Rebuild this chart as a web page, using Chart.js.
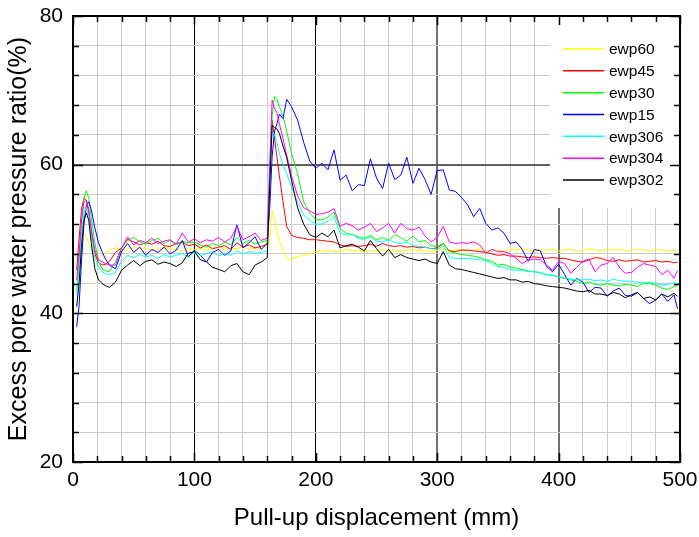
<!DOCTYPE html>
<html><head><meta charset="utf-8">
<script src="https://cdn.jsdelivr.net/npm/chart.js@4"></script>
<style>html,body{margin:0;padding:0;background:#fff;}#wrap{width:699px;height:537px;}</style>
</head><body><div id="wrap"><canvas id="c" width="699" height="537"></canvas></div>
<script>
const displacement = [3,5,7,9,11,13,15,18,21,24,27,30,35,40,45,50,55,60,65,70,75,80,85,90,95,100,105,110,115,120,125,130,135,140,145,150,155,160,162,164,166,168,170,173,176,180,185,190,195,200,205,210,215,220,225,230,235,240,245,250,255,260,265,270,275,280,285,290,295,300,305,310,315,320,325,330,335,340,345,350,355,360,365,370,375,380,385,390,395,400,405,410,415,420,425,430,435,440,445,450,455,460,465,470,475,480,485,490,495,498];

const ewp60 = [45,48,50,50.8,50.3,49.5,48.5,47.8,47.6,47.9,48.2,
48.5,
48.8,48.6,48.5,48.9,48.7,48.8,48.5,48.6,48.9,48.7,48.6,48.4,48.7,48.6,48.8,48.5,48.7,48.9,48.6,48.8,48.7,48.9,48.6,48.8,48.7,48.9,
50,53.9,52.5,51,49.8,48.5,47.3,47.3,
47.6,47.8,48,48.3,48.4,48.5,48.3,48.4,48.6,48.4,48.5,48.3,48.5,48.4,48.6,48.4,48.5,48.3,48.5,48.6,48.4,48.5,48.3,48.5,
48.6,48.4,48.5,48.6,48.4,48.5,48.7,48.4,48.6,48.5,48.4,48.6,48.5,48.7,48.5,48.4,48.6,48.5,48.6,48.4,
48.5,48.6,48.4,48.5,48.7,48.5,48.4,48.6,48.5,48.6,48.4,48.5,48.6,48.5,48.4,48.6,48.5,48.4,48.5,48.4];

const ewp45 = [45.8,50,54,55.5,55.2,53.5,51,48,46.8,46.5,46.6,
47,
48.2,48.8,50,49.6,49.2,49.5,49.3,49.7,49.1,49,49.4,49.6,49.1,49.3,48.8,49.2,48.7,48.9,49.1,48.6,49.5,48.9,49.2,48.8,49,49.3,
57,66,63.5,61,58.5,55,51.7,50.5,
50.2,50.1,49.9,49.9,49.8,49.7,49.6,49.2,49,49.1,49,49.1,49.3,49,49.4,49.1,49,49.1,48.9,49,48.8,48.9,48.7,48.8,
49.4,48.4,48.3,48.5,48.5,48.4,48.3,48.2,48,47.8,47.9,47.7,47.7,47.6,47.5,47.6,47.5,47.4,47.5,47.4,
47.4,47.2,47,46.9,47.2,47.5,47.4,47.1,47,47.2,47,47.1,47.2,46.9,47,47.1,46.9,47,46.8,46.9];

const ewp30 = [43,47,52,55.5,56.5,55.5,53,49.5,47,46,45.7,
45.6,
47,48.8,49.8,50.2,49.6,49.3,49.8,50.1,49.4,49.8,49.2,49.7,49.5,49.6,49.2,48.9,49.4,49.1,49.6,49.2,50.2,49.4,49.8,49.3,49.6,49.8,
58,66.5,69.2,68.8,67.8,66.5,64.5,61.5,
58.8,55,53.5,52.6,52.6,52.9,53.6,51.4,50.8,50.6,50.3,50.1,50.5,49.9,50.2,49.8,50.6,50.2,49.7,50.4,49.6,49.8,49.1,49,
49.4,48.3,48.1,47.9,47.8,47.7,47.5,47.2,47,46.5,46.6,46.2,46.1,45.9,45.7,45.6,45.5,45.2,45.1,44.9,
44.7,44.5,44.3,44,44.2,43.9,43.8,44,43.8,43.7,43.9,43.8,43.6,44,44,43.8,43.4,43.2,43.6,43.8];

const ewp15 = [38.2,41,47,52,54.5,55,54,51.5,49.5,48.3,47.2,
46.5,
46,48.3,49.4,48.2,48.9,47.8,48.6,48.2,48.9,48,48.5,49.8,47.6,48.5,47.8,46.9,48.2,48.6,47.8,48.4,51.9,48.8,49.5,50.3,48.6,49.4,
54,61,64.5,65.5,66.8,66.2,68.8,67.8,
66,63,60.5,59.5,60.2,59.3,62,57.9,58.6,56.5,57.3,57.2,60.8,58.2,56.8,60.2,58,58.6,61,57.5,59.5,58,56,59.2,
59.3,56.6,56.4,55.6,54.6,53,54.1,52.1,51.2,51.5,50.8,49.4,49.6,48.6,47,48.6,48.4,46.3,45.6,46.6,
45.2,43.8,44.7,44.2,42.8,43.5,43.4,42.3,43,43.4,42.4,42.3,42.8,42,41.3,41.8,42.6,41.6,42.5,40.6];

const ewp306 = [42.5,46,50.5,53.5,54.2,53,50.5,47.5,46.2,45.6,45.3,
45.2,
45.5,47,47.8,47.5,47.9,47.6,47.8,47.4,47.9,47.6,47.8,48.1,47.5,48.2,47.8,48,48.3,47.7,48.1,47.8,48.4,48,48.3,48.1,48.2,48.4,
57,64.5,64,63,61.5,60,58.8,57,
55,53.2,52.5,52,52,52.4,53,50.8,50.5,50.6,50.1,49.9,50.3,49.7,49.6,49.9,49.5,49.4,49.6,49.1,49,48.9,48.7,48.6,
49.1,47.5,47.4,47.4,47.4,47.3,47.2,47.1,46.7,46.3,46.2,45.9,45.8,45.8,45.6,45.6,45.4,45.2,45.1,44.9,
44.8,44.6,44.5,44.5,44.6,44.4,44.5,44.3,44.6,44.4,44.3,44.3,44.2,44.1,44.2,44,43.8,43.9,44.1,44];

const ewp304 = [44.5,48,52.5,55,55.2,54,51.5,48.5,47.2,46.9,46.7,
46.5,
46.5,48.7,50.3,49.2,49.8,49.5,50.1,49.4,49.7,49.9,49.3,50.8,49.6,50,49.5,49.9,49.7,50.2,49.6,50.1,51.7,49.9,50.3,50.8,49.8,50.1,
60,68.7,67.5,67,65.5,63.5,61.3,58.5,
55.8,54.2,53.8,53.3,53.4,53.6,54.1,51.7,52.1,51.8,51.2,51.6,52.1,51,51.5,52.1,50.8,52.1,51.4,51.2,51.6,50.4,49.6,50.2,
51.7,49.6,49.4,49.5,49.4,49.6,49.2,48.1,48.6,48.3,48.3,48,47.4,46.7,47.2,47.3,47.2,46.5,45.8,47,
46.7,45.4,46.2,47,47.3,45.6,46.5,46.7,47.5,46.2,45.4,45.5,46.2,46.7,46.5,46.3,45.2,45.8,44.7,45.8];

const ewp302 = [40.9,44,49,52.5,53.5,52.5,49.5,46,44.5,44,43.7,
43.5,
44.2,45.8,46.5,47.1,46.4,47,47.2,46.6,46.9,46.7,46.3,46.8,48.1,48.3,47.2,46.9,46.2,45.9,45.6,46.4,46.7,45.6,45.2,46.5,46.9,47.5,
57,65.3,65,64.8,64.2,62.5,61,57.9,
54.2,52,50.6,50.2,50.8,50.3,51.2,48.8,49.1,49.3,48.9,48.4,49.8,48.7,47.7,48.6,47.5,47.9,47.5,47.3,47.1,47.3,46.9,46.7,
48.3,46.5,46,45.9,45.7,45.5,45.3,45.1,44.9,44.7,44.8,44.5,44.5,44.2,44.3,44,43.9,43.7,43.6,43.5,
43.4,43.2,43,42.9,43.1,42.6,42.6,42.4,42.8,42.6,42.1,42.5,42.8,42,42.2,41.8,42.6,42.2,42.7,42.3];

const seriesNames = ['ewp60','ewp45','ewp30','ewp15','ewp306','ewp304','ewp302'];
const seriesValues = [ewp60, ewp45, ewp30, ewp15, ewp306, ewp304, ewp302];
const seriesColors = ['#ffff00','#ff0000','#00ff00','#0000ff','#00ffff','#ff00ff','#000000'];
const xTickLabels = [0,100,200,300,400,500];
const yTickLabels = [20,40,60,80];

const FONT = "'Liberation Sans', Arial, Helvetica, sans-serif";

const datasets = seriesNames.map((name, i) => ({
  label: name,
  data: displacement.map((x, k) => ({x: x, y: seriesValues[i][k]})),
  borderColor: seriesColors[i],
  borderWidth: 1,
  pointRadius: 0,
  tension: 0,
  fill: false,
  order: seriesNames.length - i
}));

function gridColorX(ctx) {
  const v = ctx.tick ? ctx.tick.value : null;
  if (v === 100 || v === 200) return '#000000';
  if (v === 300 || v === 400) return '#707070';
  return '#cccccc';
}
function gridWidthX(ctx) {
  const v = ctx.tick ? ctx.tick.value : null;
  if (v === 300 || v === 400) return 2;
  return 1;
}
function gridColorY(ctx) {
  const v = ctx.tick ? ctx.tick.value : null;
  if (v === 40) return '#000000';
  if (v === 60) return '#606060';
  return '#cccccc';
}
function gridWidthY(ctx) {
  const v = ctx.tick ? ctx.tick.value : null;
  if (v === 60) return 2;
  return 1;
}

const framePlugin = {
  id: 'frame',
  beforeDatasetsDraw(chart) {
    const {ctx, chartArea: a} = chart;
    ctx.save();
    ctx.fillStyle = '#ffffff';
    ctx.fillRect(a.right - 130, a.top, 130, 192);
    ctx.restore();
  },
  afterDatasetsDraw(chart) {
    const {ctx, chartArea: a, scales} = chart;
    const x = scales.x, y = scales.y;
    ctx.save();
    ctx.strokeStyle = '#000';
    ctx.lineWidth = 1.5;
    ctx.beginPath();
    x.ticks.forEach(t => {
      const px = Math.round(x.getPixelForValue(t.value)) + 0.5;
      const len = (t.value % 100 === 0) ? 9 : 6;
      ctx.moveTo(px, a.bottom); ctx.lineTo(px, a.bottom - len);
      ctx.moveTo(px, a.top); ctx.lineTo(px, a.top + len);
    });
    y.ticks.forEach(t => {
      const py = Math.round(y.getPixelForValue(t.value)) + 0.5;
      const len = (t.value % 20 === 0) ? 10 : 6;
      ctx.moveTo(a.left, py); ctx.lineTo(a.left + len, py);
      ctx.moveTo(a.right, py); ctx.lineTo(a.right - len, py);
    });
    ctx.stroke();
    ctx.lineWidth = 2;
    ctx.strokeRect(a.left, a.top, a.right - a.left, a.bottom - a.top);
    // legend
    ctx.font = '15.5px ' + FONT;
    ctx.textBaseline = 'middle';
    ctx.textAlign = 'left';
    chart.data.datasets.forEach((ds, i) => {
      const ly = a.top + 33 + i * 21.83;
      ctx.strokeStyle = ds.borderColor;
      ctx.lineWidth = 1.5;
      ctx.beginPath();
      ctx.moveTo(a.right - 117, ly); ctx.lineTo(a.right - 76, ly);
      ctx.stroke();
      ctx.fillStyle = '#000';
      ctx.fillText(ds.label, a.right - 71, ly + 1);
    });
    ctx.restore();
  }
};

new Chart(document.getElementById('c'), {
  type: 'line',
  data: { datasets },
  options: {
    responsive: false,
    animation: false,
    devicePixelRatio: 1,
    layout: { padding: { top: 16, right: 19, left: 0, bottom: 0 } },
    plugins: { legend: { display: false }, tooltip: { enabled: false } },
    scales: {
      x: {
        type: 'linear', min: 0, max: 500,
        ticks: {
          stepSize: 20, autoSkip: false, maxRotation: 0, padding: 6,
          color: '#000', font: { family: FONT, size: 21 },
          callback: v => xTickLabels.includes(v) ? String(v) : ''
        },
        grid: { drawTicks: false, color: gridColorX, lineWidth: gridWidthX },
        border: { display: false },
        title: { display: true, text: 'Pull-up displacement (mm)', color: '#000',
                 font: { family: FONT, size: 24 }, padding: { top: 4, bottom: 4 } },
        afterFit: s => { s.height = 75; s.paddingLeft = 0; s.paddingRight = 0; s.paddingTop = 0; s.paddingBottom = 0; }
      },
      y: {
        type: 'linear', min: 20, max: 80,
        ticks: {
          stepSize: 4, autoSkip: false, padding: 10,
          color: '#000', font: { family: FONT, size: 21 },
          callback: v => yTickLabels.includes(v) ? String(v) : ''
        },
        grid: { drawTicks: false, color: gridColorY, lineWidth: gridWidthY },
        border: { display: false },
        title: { display: true, text: 'Excess pore water pressure ratio(%)', color: '#000',
                 font: { family: FONT, size: 25 }, padding: { top: 4, bottom: 4 } },
        afterFit: s => { s.width = 73; s.paddingLeft = 0; s.paddingRight = 0; s.paddingTop = 0; s.paddingBottom = 0; }
      }
    }
  },
  plugins: [framePlugin]
});
</script></body></html>
